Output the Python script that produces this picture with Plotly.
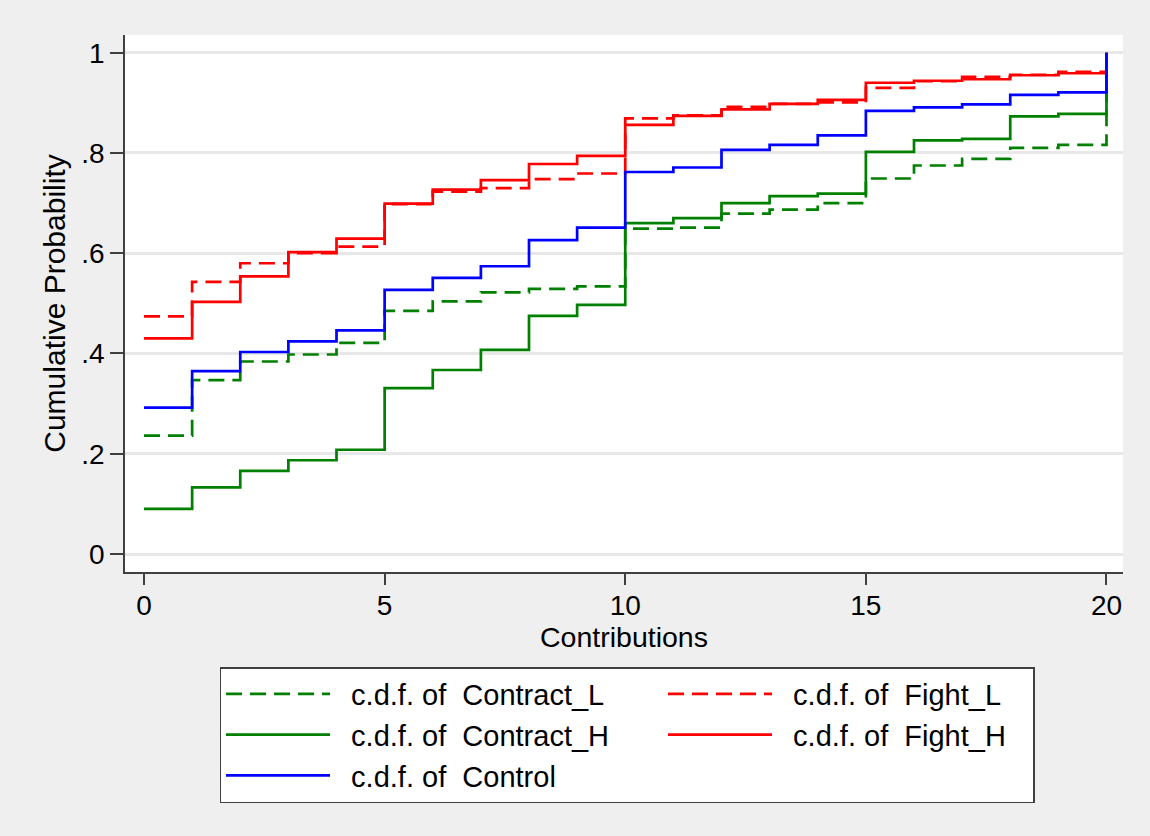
import plotly.graph_objects as go

# Contribution levels (x) and cumulative probabilities per treatment
contributions = list(range(0, 21))

contract_L = [0.236, 0.347, 0.384, 0.398, 0.421, 0.485, 0.504, 0.522, 0.529, 0.534,
              0.649, 0.651, 0.679, 0.687, 0.700, 0.749, 0.775, 0.788, 0.810, 0.816, 1.0]
contract_H = [0.090, 0.133, 0.166, 0.187, 0.208, 0.331, 0.367, 0.407, 0.475, 0.497,
              0.660, 0.670, 0.700, 0.714, 0.719, 0.802, 0.825, 0.828, 0.873, 0.878, 1.0]
fight_L = [0.474, 0.543, 0.580, 0.600, 0.613, 0.698, 0.723, 0.730, 0.748, 0.759,
           0.869, 0.875, 0.892, 0.898, 0.901, 0.930, 0.943, 0.952, 0.956, 0.962, 1.0]
fight_H = [0.430, 0.503, 0.554, 0.602, 0.629, 0.699, 0.727, 0.746, 0.778, 0.794,
           0.856, 0.874, 0.887, 0.898, 0.906, 0.940, 0.944, 0.947, 0.955, 0.959, 1.0]
control = [0.292, 0.365, 0.403, 0.424, 0.446, 0.527, 0.551, 0.574, 0.626, 0.651,
           0.762, 0.771, 0.806, 0.816, 0.835, 0.884, 0.891, 0.897, 0.916, 0.921, 1.0]

series_names = ["c.d.f. of  Contract_L", "c.d.f. of  Fight_L", "c.d.f. of  Contract_H",
                "c.d.f. of  Fight_H", "c.d.f. of  Control"]
series_values = [contract_L, fight_L, contract_H, fight_H, control]
series_colors = ["#008000", "#FF0000", "#008000", "#FF0000", "#0000FF"]
series_dash = ["16px,8px", "16px,8px", "solid", "solid", "solid"]
legend_col_width = [323, 251, 323, 251, 323]

x_ticks = [0, 5, 10, 15, 20]
y_ticks = [0, 0.2, 0.4, 0.6, 0.8, 1.0]
y_ticktext = ["0", ".2", ".4", ".6", ".8", "1"]

FONT = "Arial, 'Liberation Sans', sans-serif"

fig = go.Figure()
for name, vals, col, dash, lw in zip(series_names, series_values, series_colors,
                                     series_dash, legend_col_width):
    fig.add_trace(go.Scatter(
        x=contributions, y=vals, mode="lines", name="\u00a0\u00a0" + name,
        line=dict(shape="hv", color=col, width=2.7, dash=dash),
        legendwidth=lw,
    ))

axis_col = "#404040"
fig.update_layout(
    width=1150, height=836,
    margin=dict(l=125, r=27, t=35, b=264),
    paper_bgcolor="#EFEFEF", plot_bgcolor="white",
    font=dict(family=FONT, color="black"),
    showlegend=True,
    legend=dict(
        orientation="h", x=0.0947, xanchor="left", y=-0.177, yanchor="top",
        bgcolor="white", bordercolor=axis_col, borderwidth=1.5,
        font=dict(size=29, family=FONT, color="black"),
        itemwidth=104, traceorder="normal",
    ),
    xaxis=dict(
        range=[-0.395, 20.343], tickvals=x_ticks, ticks="outside", ticklen=11,
        tickwidth=1.5, tickcolor=axis_col, showline=True, linecolor=axis_col,
        linewidth=1.5, showgrid=False, zeroline=False,
        tickfont=dict(size=28), ticklabelstandoff=-3,
        title=dict(text="Contributions", font=dict(size=28.5), standoff=0),
    ),
    yaxis=dict(
        range=[-0.0359, 1.0353], tickvals=y_ticks, ticktext=y_ticktext,
        ticks="outside", ticklen=13, tickwidth=1.5, tickcolor=axis_col,
        showline=True, linecolor=axis_col, linewidth=1.5,
        showgrid=True, gridcolor="#E8E8E8", gridwidth=2.5, zeroline=False,
        tickfont=dict(size=28), ticklabelstandoff=0,
        title=dict(text="Cumulative Probability", font=dict(size=30), standoff=7),
    ),
)

fig.write_html("out.html")
